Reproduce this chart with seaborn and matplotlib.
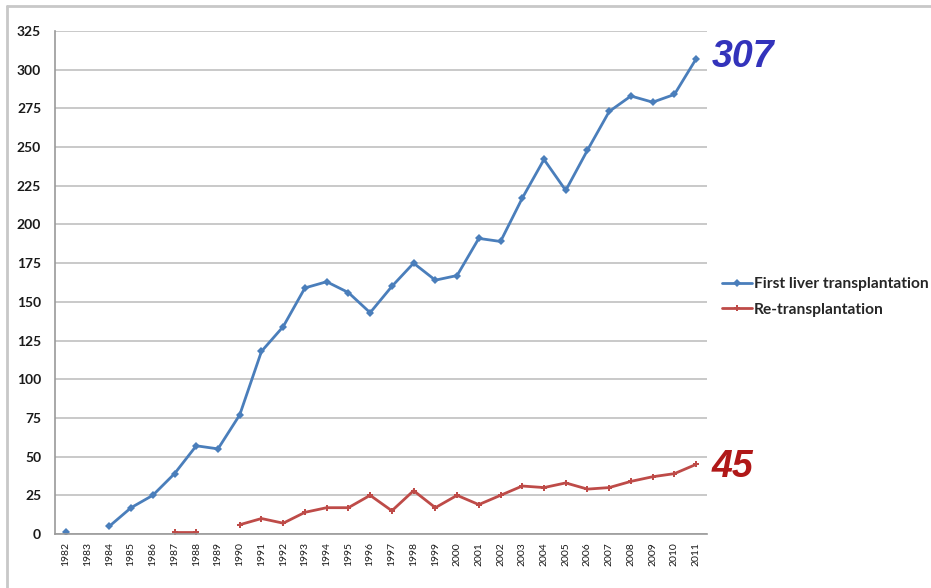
import numpy as np
import pandas as pd
import matplotlib
matplotlib.use("Agg")
import matplotlib.pyplot as plt
from matplotlib.lines import Line2D
import seaborn as sns

years = list(range(1982, 2012))
first_tx = [1, np.nan, 5, 17, 25, 39, 57, 55, 77, 118, 134, 159, 163, 156, 143,
            160, 175, 164, 167, 191, 189, 217, 242, 222, 248, 273, 283, 279, 284, 307]
re_tx = [np.nan, np.nan, np.nan, np.nan, np.nan, 1, 1, np.nan, 6, 10, 7, 14, 17, 17, 25,
         15, 28, 17, 25, 19, 25, 31, 30, 33, 29, 30, 34, 37, 39, 45]
series_names = ["First liver transplantation", "Re-transplantation"]
colors = ["#4a7ebb", "#be4b48"]
yticks = list(range(0, 326, 25))

sns.set_theme(style="white")
plt.rcParams['font.family'] = ['Lato', 'DejaVu Sans']

rows = []
for name, vals in zip(series_names, [first_tx, re_tx]):
    seg = 0
    prev_nan = True
    for i, (yr, v) in enumerate(zip(years, vals)):
        if np.isnan(v):
            prev_nan = True
            continue
        if prev_nan:
            seg += 1
        prev_nan = False
        rows.append({"pos": i, "year": yr, "value": v, "series": name, "seg": seg})
df = pd.DataFrame(rows)

fig = plt.figure(figsize=(9.31, 5.88), dpi=100)
ax = fig.add_axes([55 / 931, 1 - 534 / 588, (707 - 55) / 931, (534 - 31) / 588])

for name, col, mk, ms in zip(series_names, colors, ["D", "P"], [4, 4.5]):
    sub = df[df.series == name]
    sns.lineplot(data=sub, x="pos", y="value", units="seg", estimator=None,
                 color=col, marker=mk, markersize=ms, markeredgewidth=0,
                 linewidth=2, ax=ax, legend=False)

ax.set_xlim(-0.5, len(years) - 0.5)
ax.set_ylim(0, 325)
ax.set_yticks(yticks)
ax.set_yticklabels([str(t) for t in yticks], fontsize=10, fontweight="bold", color="#1a1a1a")
ax.set_xticks(range(len(years)))
ax.set_xticklabels([str(y) for y in years], rotation=90, fontsize=7.5, color="#1a1a1a")
ax.set_xticks(np.arange(-0.5, len(years), 1), minor=True)
ax.tick_params(axis="x", which="major", length=0, pad=6)
ax.tick_params(axis="x", which="minor", length=5, color="#999999", width=1)
ax.tick_params(axis="y", length=5, color="#999999", width=1, pad=5)
ax.set_xlabel("")
ax.set_ylabel("")
ax.grid(axis="y", color="#c0c0c0", linewidth=1.2)
ax.set_axisbelow(True)
for s in ["top", "right"]:
    ax.spines[s].set_visible(False)
for s in ["left", "bottom"]:
    ax.spines[s].set_color("#999999")
    ax.spines[s].set_linewidth(1.2)

ax.text(len(years) - 0.3, first_tx[-1] + 1, "307", color="#3333bb", fontsize=27,
        fontweight="bold", fontstyle="italic", family=["Liberation Sans", "DejaVu Sans"],
        ha="left", va="center", clip_on=False)
ax.text(len(years) - 0.3, re_tx[-1] - 2, "45", color="#b01818", fontsize=27,
        fontweight="bold", fontstyle="italic", family=["Liberation Sans", "DejaVu Sans"],
        ha="left", va="center", clip_on=False)

handles = [Line2D([0], [0], color=colors[0], marker="D", markersize=4, markeredgewidth=0, linewidth=2),
           Line2D([0], [0], color=colors[1], marker="P", markersize=4.5, markeredgewidth=0, linewidth=2)]
fig.legend(handles, series_names, loc="center left", bbox_to_anchor=(722 / 931, 1 - 297 / 588),
           frameon=False, prop={"weight": "bold", "size": 11.2}, handlelength=1.9,
           handletextpad=0.15, labelspacing=0.75, borderaxespad=0, borderpad=0)

fig.add_artist(Line2D([7 / 931, 1], [1 - 6 / 588, 1 - 6 / 588], transform=fig.transFigure,
                      color="#c8c8c8", linewidth=2))
fig.add_artist(Line2D([7 / 931, 7 / 931], [0, 1 - 6 / 588], transform=fig.transFigure,
                      color="#c8c8c8", linewidth=2))

fig.savefig("out.png", dpi=100, facecolor="white")
